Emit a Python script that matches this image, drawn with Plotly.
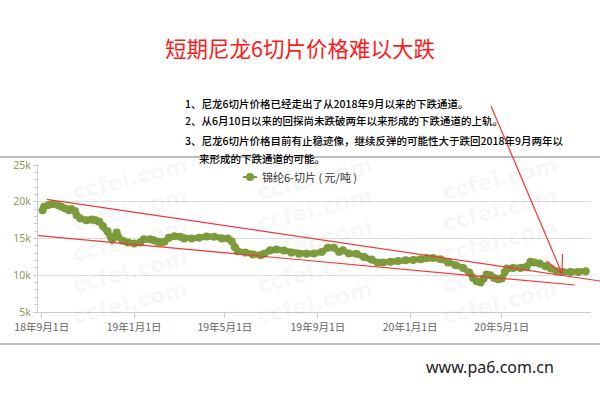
import plotly.graph_objects as go

# ---------------- data ----------------
dates = ["2018-09-02","2018-09-04","2018-09-10","2018-09-15","2018-09-22","2018-09-27",
         "2018-10-02","2018-10-07","2018-10-10","2018-10-15","2018-10-17","2018-10-22","2018-10-30",
         "2018-11-06","2018-11-11","2018-11-16","2018-11-21","2018-11-27",
         "2018-12-01","2018-12-03","2018-12-05","2018-12-09","2018-12-11","2018-12-17","2018-12-24",
         "2019-01-01","2019-01-09","2019-01-14","2019-01-22","2019-01-27",
         "2019-02-01","2019-02-06","2019-02-10","2019-02-16","2019-02-23",
         "2019-03-03","2019-03-08","2019-03-18","2019-03-28",
         "2019-04-07","2019-04-17","2019-04-27",
         "2019-05-05","2019-05-10","2019-05-14","2019-05-18","2019-05-28",
         "2019-06-07","2019-06-17","2019-06-22","2019-06-30",
         "2019-07-08","2019-07-18","2019-07-28",
         "2019-08-07","2019-08-17","2019-08-27",
         "2019-09-06","2019-09-14","2019-09-22","2019-09-29",
         "2019-10-04","2019-10-12","2019-10-22",
         "2019-11-01","2019-11-11","2019-11-19","2019-11-26",
         "2019-12-06","2019-12-16","2019-12-26",
         "2020-01-05","2020-01-15","2020-01-23","2020-01-31",
         "2020-02-10","2020-02-20",
         "2020-03-01","2020-03-11","2020-03-19","2020-03-24","2020-03-29",
         "2020-04-03","2020-04-07","2020-04-11","2020-04-16","2020-04-21","2020-04-26",
         "2020-05-01","2020-05-05","2020-05-08","2020-05-16","2020-05-26",
         "2020-06-03","2020-06-08","2020-06-13","2020-06-20","2020-06-28",
         "2020-07-05","2020-07-13","2020-07-21","2020-07-31",
         "2020-08-10","2020-08-20"]

prices = [18860,19320,19550,19680,19550,19320,19090,18860,19000,18730,
          18180,17730,17500,17590,17500,17270,16680,16000,15230,14860,
          15230,15820,15230,14680,14450,14320,14450,14910,14910,14770,
          14550,14450,14550,15090,15320,15230,15000,15000,15090,15270,
          15230,15000,15000,14640,13860,13270,13090,12820,12730,12910,
          13410,13500,13360,13090,12910,12910,12950,13180,13730,13730,
          13180,13410,12950,12910,12500,12140,11730,11730,11820,11950,
          12050,12090,12180,12360,12360,12180,11730,11360,11000,10360,
          9640,9180,9000,9550,10090,10000,9640,9450,9550,10450,
          10910,11000,11000,11140,11820,11730,11590,11230,10910,10550,
          10450,10450,10450,10550]
assert len(dates) == len(prices)

series_name = "锦纶6-切片\u00a0(\u00a0元/吨\u00a0)"

x_tick_vals = ["2018-09-01","2019-01-01","2019-05-01","2019-09-01","2020-01-01","2020-05-01"]
x_tick_text = ["18年9月1日","19年1月1日","19年5月1日","19年9月1日","20年1月1日","20年5月1日"]
y_tick_vals = [5000, 10000, 15000, 20000, 25000]
y_tick_text = ["5k", "10k", "15k", "20k", "25k"]

title_text = "短期尼龙6切片价格难以大跌"
notes = [
    "1、尼龙6切片价格已经走出了从2018年9月以来的下跌通道。",
    "2、从6月10日以来的回探尚未跌破两年以来形成的下跌通道的上轨。",
    "3、尼龙6切片价格目前有止稳迹像，继续反弹的可能性大于跌回2018年9月两年以",
    "来形成的下跌通道的可能。",
]
footer = "www.pa6.com.cn"
watermark = "ccfei.com"

# ---------------- layout geometry ----------------
W, H = 600, 400
ML, MR, MT, MB = 38, 9, 165, 88
PW, PH = W - ML - MR, H - MT - MB

def px(xp):
    return (xp - ML) / PW

def py(yp):
    return (H - MB - yp) / PH

CJK = "Noto Sans CJK SC"
GREEN = "#7c9c3c"
RED = "#f23a3a"

fig = go.Figure()
fig.add_trace(go.Scatter(
    x=dates, y=prices, mode="lines+markers", name=series_name,
    line=dict(color=GREEN, width=6),
    marker=dict(color=GREEN, size=8),
    showlegend=False,
))

shapes = []
# chart-container border lines
for yy in (157, 344):
    shapes.append(dict(type="line", xref="paper", yref="paper",
                       x0=px(0), x1=px(600), y0=py(yy), y1=py(yy),
                       line=dict(color="#a8a8a8", width=1.5)))
# hand-drawn channel lines and arrow
red_lines = [
    ((46.7, 199.3), (600, 281)),
    ((38.3, 235.7), (574.8, 285)),
    ((491, 106), (562, 273.5)),
    ((562.5, 254), (562, 273.5)),
    ((546.5, 261), (562, 273.5)),
]
for (x0, y0), (x1, y1) in red_lines:
    shapes.append(dict(type="line", xref="paper", yref="paper",
                       x0=px(x0), y0=py(y0), x1=px(x1), y1=py(y1),
                       line=dict(color=RED, width=1.2)))
# legend symbol (short line with dot)
LGX, LGY = 250, 177
shapes.append(dict(type="line", xref="paper", yref="paper",
                   x0=px(LGX - 7), x1=px(LGX + 7), y0=py(LGY), y1=py(LGY),
                   line=dict(color=GREEN, width=2)))
shapes.append(dict(type="circle", xref="paper", yref="paper",
                   x0=px(LGX - 4), x1=px(LGX + 4), y0=py(LGY - 4), y1=py(LGY + 4),
                   fillcolor=GREEN, line=dict(color=GREEN, width=0)))

annotations = []
# watermarks
for cx in (130, 315, 500):
    for cy in (178, 209, 240, 271, 302):
        annotations.append(dict(text="<b>" + watermark + "</b>", xref="paper", yref="paper",
                                x=px(cx), y=py(cy), showarrow=False, textangle=-14,
                                font=dict(family="DejaVu Sans", size=22, color="rgba(0,0,0,0.055)"),
                                xanchor="center", yanchor="middle"))
annotations.append(dict(text=series_name, xref="paper", yref="paper",
                        x=px(260), y=py(177), showarrow=False,
                        font=dict(family=CJK, size=11, color="#333333"),
                        xanchor="left", yanchor="middle"))
annotations.append(dict(text=title_text, xref="paper", yref="paper",
                        x=px(300), y=py(47), showarrow=False,
                        font=dict(family=CJK, size=21.5, color="#ff1a1a"),
                        xanchor="center", yanchor="middle"))
note_pos = [(183, 103), (183, 121), (183, 140), (197, 158)]
for t, (nx, ny) in zip(notes, note_pos):
    annotations.append(dict(text=t, xref="paper", yref="paper",
                            x=px(nx), y=py(ny), showarrow=False,
                            font=dict(family=CJK, size=10.5, color="#000000", weight=500),
                            xanchor="left", yanchor="middle"))
annotations.append(dict(text=footer, xref="paper", yref="paper",
                        x=px(556), y=py(367), showarrow=False,
                        font=dict(family="Noto Sans", size=16, color="#222222"),
                        xanchor="right", yanchor="middle"))

fig.update_layout(
    width=W, height=H,
    margin=dict(l=ML, r=MR, t=MT, b=MB),
    paper_bgcolor="white", plot_bgcolor="white",
    showlegend=False,
    shapes=shapes, annotations=annotations,
    xaxis=dict(type="date", range=["2018-08-27", "2020-08-27"],
               tickvals=x_tick_vals, ticktext=x_tick_text,
               showgrid=False, showline=True, linecolor="#c8c8d8", linewidth=1,
               ticks="outside", ticklen=5, tickcolor="#c8c8d8",
               tickfont=dict(family=CJK, size=10.5, color="#666666"), zeroline=False),
    yaxis=dict(range=[5000, 25000], tickvals=y_tick_vals, ticktext=y_tick_text,
               showgrid=True, gridcolor="#dcdcdc", gridwidth=1,
               showline=True, linecolor="#c8c8d8", linewidth=1,
               ticks="outside", ticklen=4, tickcolor="#c8c8d8",
               minor=dict(dtick=1000, ticks="outside", ticklen=3, tickcolor="#c8c8d8", showgrid=False),
               tickfont=dict(family="Noto Sans", size=10.5, color="#8e9a5c"), zeroline=False),
)

fig.write_html("out.html", config={"displayModeBar": False},
               post_script="document.body.style.margin='0';document.body.style.padding='0';")
